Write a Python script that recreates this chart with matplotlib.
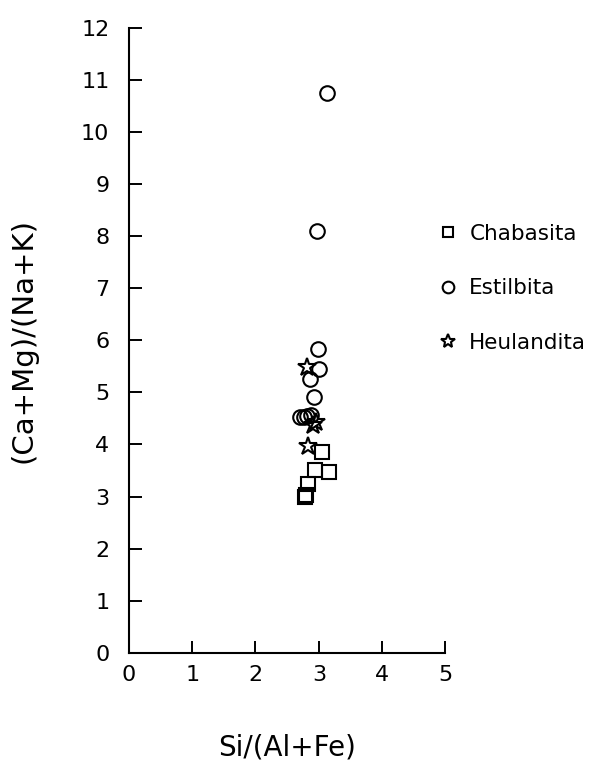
import matplotlib
matplotlib.use("Agg")
import matplotlib.pyplot as plt

plt.rcParams['font.family'] = ['DejaVu Sans']

# Data
chab_x = [3.05, 2.94, 3.16, 2.83, 2.78, 2.79]
chab_y = [3.85, 3.51, 3.47, 3.24, 3.00, 3.02]

estil_x = [3.13, 2.97, 2.98, 3.00, 2.86, 2.92, 2.71, 2.76, 2.82, 2.87]
estil_y = [10.76, 8.11, 5.84, 5.45, 5.26, 4.92, 4.52, 4.53, 4.55, 4.57]

heul_x = [2.82, 2.96, 2.91, 2.83]
heul_y = [5.49, 4.43, 4.38, 3.98]

series_names = ["Chabasita", "Estilbita", "Heulandita"]
x_ticks = [0, 1, 2, 3, 4, 5]
y_ticks = list(range(0, 13))

fig = plt.figure(figsize=(6.02, 7.67), dpi=100)
ax = fig.add_axes([0.214, 0.149, 0.526, 0.8145])

kw = dict(linestyle='none', mfc='none', mec='black', mew=1.5)
ax.plot(chab_x, chab_y, marker='s', ms=9.5, label=series_names[0], **kw)
ax.plot(estil_x, estil_y, marker='o', ms=10.5, label=series_names[1], **kw)
ax.plot(heul_x, heul_y, marker='*', ms=13.5, label=series_names[2], **kw)

ax.set_xlim(0, 5)
ax.set_ylim(0, 12)
ax.set_xticks(x_ticks)
ax.set_yticks(y_ticks)
ax.spines['top'].set_visible(False)
ax.spines['right'].set_visible(False)
for s in ['left', 'bottom']:
    ax.spines[s].set_linewidth(1.5)
ax.tick_params(direction='in', length=9, width=1.4, labelsize=16, pad=9)
ax.tick_params(axis='y', pad=14)

ax.set_xlabel("Si/(Al+Fe)", fontsize=20, labelpad=35)
ax.set_ylabel("(Ca+Mg)/(Na+K)", fontsize=21, labelpad=31)

leg = fig.legend(loc='upper left', bbox_to_anchor=(437 / 602, 1 - 224 / 767),
                 frameon=False, fontsize=15.5, labelspacing=1.6, handletextpad=0.5,
                 handlelength=1.0, borderpad=0, borderaxespad=0, markerscale=0.8)

fig.savefig("out.png", dpi=100)
